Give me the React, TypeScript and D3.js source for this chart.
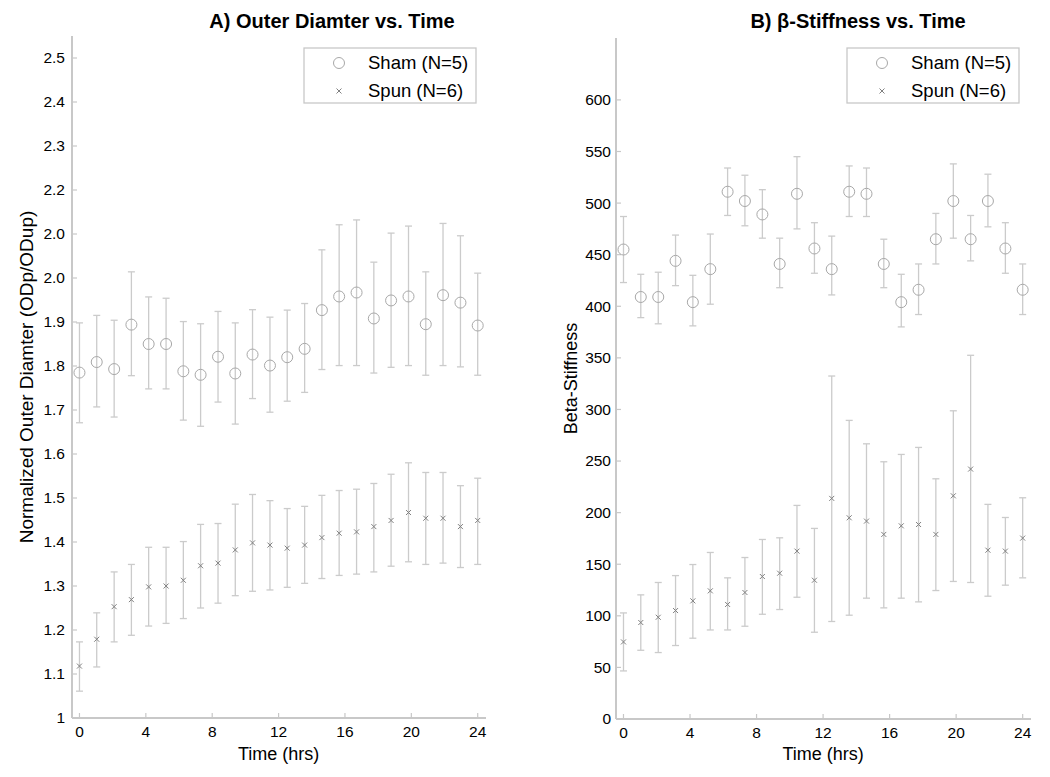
import React from "react";
import * as d3 from "d3";

const times = [0, 1.04, 2.09, 3.13, 4.17, 5.22, 6.26, 7.3, 8.35, 9.39, 10.43, 11.48, 12.52, 13.57, 14.61, 15.65, 16.7, 17.74, 18.78, 19.83, 20.87, 21.91, 22.96, 24];

// Panel A: normalized outer diameter
const odShamMean = [1.785, 1.809, 1.793, 1.894, 1.85, 1.85, 1.788, 1.78, 1.821, 1.783, 1.826, 1.801, 1.82, 1.839, 1.927, 1.958, 1.967, 1.908, 1.949, 1.958, 1.895, 1.961, 1.944, 1.892];
const odShamHi = [1.898, 1.915, 1.904, 2.014, 1.957, 1.954, 1.901, 1.896, 1.924, 1.898, 1.928, 1.911, 1.927, 1.942, 2.064, 2.121, 2.132, 2.036, 2.102, 2.118, 2.014, 2.124, 2.096, 2.011];
const odShamLo = [1.671, 1.707, 1.684, 1.778, 1.748, 1.748, 1.677, 1.663, 1.718, 1.668, 1.726, 1.695, 1.72, 1.74, 1.792, 1.801, 1.801, 1.784, 1.797, 1.801, 1.779, 1.801, 1.798, 1.779];
const odSpunMean = [1.118, 1.179, 1.253, 1.269, 1.298, 1.3, 1.313, 1.346, 1.352, 1.382, 1.398, 1.393, 1.386, 1.393, 1.41, 1.42, 1.423, 1.435, 1.449, 1.467, 1.454, 1.454, 1.435, 1.449];
const odSpunHi = [1.173, 1.239, 1.332, 1.349, 1.388, 1.388, 1.401, 1.44, 1.442, 1.486, 1.508, 1.494, 1.476, 1.481, 1.506, 1.517, 1.52, 1.533, 1.554, 1.58, 1.558, 1.558, 1.528, 1.545];
const odSpunLo = [1.061, 1.116, 1.173, 1.188, 1.209, 1.215, 1.226, 1.25, 1.261, 1.278, 1.288, 1.291, 1.297, 1.306, 1.317, 1.324, 1.327, 1.332, 1.345, 1.355, 1.349, 1.352, 1.342, 1.349];
const odTicks = [1, 1.1, 1.2, 1.3, 1.4, 1.5, 1.6, 1.7, 1.8, 1.9, 2.0, 2.1, 2.2, 2.3, 2.4, 2.5];
const odTickLabels = ["1", "1.1", "1.2", "1.3", "1.4", "1.5", "1.6", "1.7", "1.8", "1.9", "2.0", "2.0", "2.2", "2.3", "2.4", "2.5"];

// Panel B: beta-stiffness
const bsShamMean = [455, 409, 409, 444, 404, 436, 511, 502, 489, 441, 509, 456, 436, 511, 509, 441, 404, 416, 465, 502, 465, 502, 456, 416];
const bsShamHi = [487, 431, 433, 469, 430, 470, 534, 527, 513, 466, 545, 481, 468, 536, 534, 465, 431, 441, 490, 538, 488, 528, 481, 441];
const bsShamLo = [423, 389, 383, 420, 381, 402, 488, 478, 466, 418, 475, 432, 411, 487, 487, 418, 380, 392, 441, 466, 444, 477, 432, 392];
const bsSpunMean = [74.7, 93.5, 98.6, 105.1, 114.5, 124.2, 111, 122.6, 138.1, 141.3, 162.7, 134.5, 213.8, 195, 191.8, 178.9, 187.2, 188.5, 178.9, 216.3, 242.2, 163.6, 162.7, 175.3];
const bsSpunHi = [102.8, 120.3, 132.3, 139, 149.7, 161.4, 136.8, 156.5, 174, 175.6, 207, 184.7, 332.4, 289.4, 266.7, 249.3, 256.4, 263.2, 232.8, 298.7, 352.5, 208, 195.3, 214.4];
const bsSpunLo = [46.6, 66.6, 64.4, 71.2, 78.3, 86.3, 86.3, 89.9, 101.5, 106.1, 118, 84.1, 94.5, 100.6, 117.1, 107.7, 117.1, 113.5, 124.5, 133.3, 132.3, 119, 129.7, 136.8];
const bsTicks = [0, 50, 100, 150, 200, 250, 300, 350, 400, 450, 500, 550, 600];
const bsTickLabels = bsTicks.map(String);

const xTicks = [0, 4, 8, 12, 16, 20, 24];
const legendLabels = ["Sham (N=5)", "Spun (N=6)"];

const FONT = "'Liberation Sans', Arial, sans-serif";
const AXIS = "#c8c8c8";
const ERR = "#cbcbcb";
const CIRC = "#a8a8a8";
const XMARK = "#808080";

type PanelProps = {
  x0: number; x1: number; y0: number; y1: number;
  yDomain: [number, number];
  yTicks: number[]; yTickLabels: string[];
  shamMean: number[]; shamHi: number[]; shamLo: number[];
  spunMean: number[]; spunHi: number[]; spunLo: number[];
  title: string; titleX: number; yLabel: string; yLabelX: number; yLabelGap: number;
  yLabelSize: number;
  legendX: number;
};

function Panel(p: PanelProps) {
  const xs = d3.scaleLinear().domain([-0.45, 24.5]).range([p.x0, p.x1]);
  const ys = d3.scaleLinear().domain(p.yDomain).range([p.y1, p.y0]);
  const cap = 3.5;
  const errBars = (mean: number[], hi: number[], lo: number[], key: string) =>
    times.map((t, i) => {
      const x = xs(t);
      return (
        <g key={key + i} stroke={ERR} strokeWidth={1.3}>
          <line x1={x} x2={x} y1={ys(hi[i])} y2={ys(lo[i])} />
          <line x1={x - cap} x2={x + cap} y1={ys(hi[i])} y2={ys(hi[i])} />
          <line x1={x - cap} x2={x + cap} y1={ys(lo[i])} y2={ys(lo[i])} />
        </g>
      );
    });
  const xMark = (cx: number, cy: number, k: string) => (
    <g key={k} stroke={XMARK} strokeWidth={1}>
      <line x1={cx - 2.5} x2={cx + 2.5} y1={cy - 2.5} y2={cy + 2.5} />
      <line x1={cx - 2.5} x2={cx + 2.5} y1={cy + 2.5} y2={cy - 2.5} />
    </g>
  );
  const lx = p.legendX;
  const ly = 48;
  return (
    <g fontFamily={FONT}>
      <text x={p.titleX} y={28} textAnchor="middle" fontSize={20} fontWeight="bold" fill="#000">{p.title}</text>
      {/* axes */}
      <line x1={p.x0} x2={p.x0} y1={p.y0} y2={p.y1} stroke={AXIS} strokeWidth={2} />
      <line x1={p.x0} x2={p.x1} y1={p.y1} y2={p.y1} stroke={AXIS} strokeWidth={2} />
      {p.yTicks.map((v, i) => (
        <g key={"yt" + i}>
          <line x1={p.x0} x2={p.x0 + 5} y1={ys(v)} y2={ys(v)} stroke={AXIS} strokeWidth={1.2} />
          <text x={p.x0 - p.yLabelGap} y={ys(v)} dy="0.35em" textAnchor="end" fontSize={15.5} fill="#000">{p.yTickLabels[i]}</text>
        </g>
      ))}
      {xTicks.map((v) => (
        <g key={"xt" + v}>
          <line x1={xs(v)} x2={xs(v)} y1={p.y1} y2={p.y1 - 5} stroke={AXIS} strokeWidth={1.2} />
          <text x={xs(v)} y={p.y1 + 19} textAnchor="middle" fontSize={15.5} fill="#000">{v}</text>
        </g>
      ))}
      <text x={(xs(0) + xs(24)) / 2} y={760} textAnchor="middle" fontSize={18} fill="#000">Time (hrs)</text>
      <text transform={`translate(${p.yLabelX},${(p.y0 + p.y1) / 2}) rotate(-90)`} textAnchor="middle" fontSize={p.yLabelSize} fill="#000">{p.yLabel}</text>
      {/* data */}
      {errBars(p.shamMean, p.shamHi, p.shamLo, "se")}
      {errBars(p.spunMean, p.spunHi, p.spunLo, "pe")}
      {times.map((t, i) => (
        <circle key={"c" + i} cx={xs(t)} cy={ys(p.shamMean[i])} r={5.5} fill="none" stroke={CIRC} strokeWidth={1} />
      ))}
      {times.map((t, i) => xMark(xs(t), ys(p.spunMean[i]), "x" + i))}
      {/* legend */}
      <rect x={lx} y={ly} width={172} height={55} fill="#fff" stroke={AXIS} strokeWidth={1.3} />
      <circle cx={lx + 35} cy={ly + 15} r={5.5} fill="none" stroke={CIRC} strokeWidth={1} />
      {xMark(lx + 35, ly + 43, "lx")}
      <text x={lx + 64} y={ly + 21} fontSize={18.5} fill="#000">{legendLabels[0]}</text>
      <text x={lx + 64} y={ly + 49} fontSize={18.5} fill="#000">{legendLabels[1]}</text>
    </g>
  );
}

export default function App() {
  return (
    <svg width={1050} height={777} style={{ display: "block", position: "absolute", left: 0, top: 0, background: "#fff" }}>
      <rect width={1050} height={777} fill="#fff" />
      <Panel x0={72} x1={486} y0={36} y1={718} yDomain={[1, 2.55]}
        yTicks={odTicks} yTickLabels={odTickLabels}
        shamMean={odShamMean} shamHi={odShamHi} shamLo={odShamLo}
        spunMean={odSpunMean} spunHi={odSpunHi} spunLo={odSpunLo}
        title="A) Outer Diamter vs. Time" titleX={332}
        yLabel="Normalized Outer Diamter (ODp/ODup)" yLabelX={33} yLabelGap={7} yLabelSize={19}
        legendX={304} />
      <Panel x0={616} x1={1031} y0={38} y1={719} yDomain={[0, 660]}
        yTicks={bsTicks} yTickLabels={bsTickLabels}
        shamMean={bsShamMean} shamHi={bsShamHi} shamLo={bsShamLo}
        spunMean={bsSpunMean} spunHi={bsSpunHi} spunLo={bsSpunLo}
        title="B) β-Stiffness vs. Time" titleX={858}
        yLabel="Beta-Stiffness" yLabelX={577} yLabelGap={5} yLabelSize={18}
        legendX={847} />
    </svg>
  );
}
